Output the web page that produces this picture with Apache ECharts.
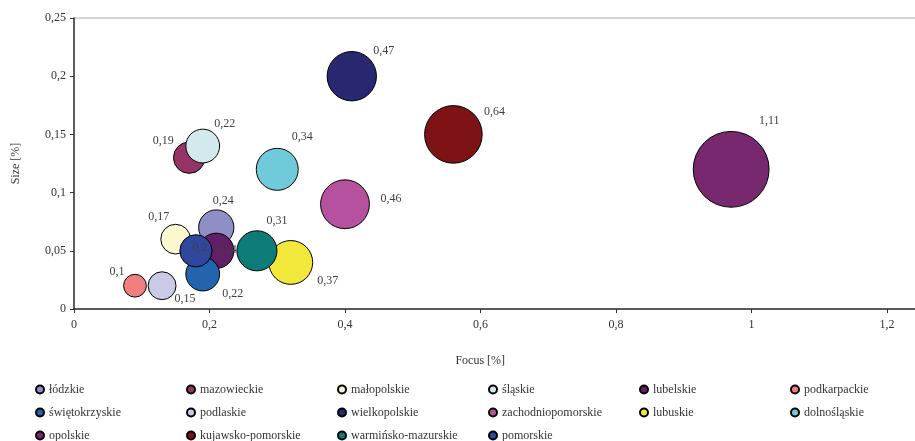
<!DOCTYPE html>
<html>
<head>
<meta charset="utf-8">
<script src="https://cdn.jsdelivr.net/npm/echarts@6/dist/echarts.min.js"></script>
<style>
html,body{margin:0;padding:0;background:#fff;}
#chart{width:915px;height:441px;}
</style>
</head>
<body>
<div id="chart"></div>
<script>
const regions = ['łódzkie','mazowieckie','małopolskie','śląskie','lubelskie','podkarpackie','świętokrzyskie','podlaskie','wielkopolskie','zachodniopomorskie','lubuskie','dolnośląskie','opolskie','kujawsko-pomorskie','warmińsko-mazurskie','pomorskie'];
const focus = [0.21, 0.17, 0.15, 0.19, 0.21, 0.09, 0.19, 0.13, 0.41, 0.40, 0.32, 0.30, 0.97, 0.56, 0.27, 0.18];
const sizeVals = [0.07, 0.13, 0.06, 0.14, 0.05, 0.02, 0.03, 0.02, 0.20, 0.09, 0.04, 0.12, 0.12, 0.15, 0.05, 0.05];
const bubble = [0.24, 0.19, 0.17, 0.22, 0.24, 0.1, 0.22, 0.15, 0.47, 0.46, 0.37, 0.34, 1.11, 0.64, 0.31, 0.2];
const xTicks = [0, 0.2, 0.4, 0.6, 0.8, 1, 1.2, 1.4];
const yTicks = [0, 0.05, 0.1, 0.15, 0.2, 0.25];

const colors = ['#8f8fc6','#953466','#fbf8cf','#d2eaee','#601f66','#f27f7f','#2264ae','#cacae6','#27286f','#b5519e','#f1e83b','#6fcbd9','#77286f','#7e1316','#0e7c76','#30479e'];
const labelOffsets = [[7,-27],[-26,-17],[-17,-22],[22,-22],[10,-1],[-18,-14],[30,20],[23,13],[32,-25],[46,-5],[37,18],[25,-32],[38,-48],[41,-23],[20,-30],[4,-3]];

const fmt = v => String(+v.toFixed(4)).replace('.', ',');
const FONT = 'Liberation Serif';

const series = regions.map((name, i) => ({
  name: name,
  type: 'scatter',
  data: [[focus[i], sizeVals[i], bubble[i]]],
  symbolSize: d => 72 * Math.sqrt(d[2]),
  itemStyle: { color: colors[i], borderColor: '#000', borderWidth: 1, opacity: 1 },
  label: {
    show: true,
    position: 'inside',
    formatter: p => fmt(p.data[2]),
    color: '#404040',
    fontFamily: FONT,
    fontSize: 12
  },
  labelLayout: { dx: labelOffsets[i][0], dy: labelOffsets[i][1], moveOverlap: false, hideOverlap: false },
  emphasis: { disabled: true },
  z: 2
}));

const chart = echarts.init(document.getElementById('chart'), null, { renderer: 'canvas' });
chart.setOption({
  animation: false,
  backgroundColor: '#fff',
  grid: { left: 74, top: 18, bottom: 132, right: -107.5, outerBoundsMode: 'none', show: true, borderColor: '#aaaaaa', borderWidth: 1, containLabel: false },
  xAxis: {
    type: 'value',
    min: xTicks[0], max: xTicks[xTicks.length - 1], interval: xTicks[1] - xTicks[0],
    name: 'Focus [%]', nameLocation: 'middle', nameGap: 46,
    nameTextStyle: { fontFamily: FONT, fontSize: 12, color: '#333', padding: [0, 136, 0, 0] },
    axisLine: { lineStyle: { color: '#333', width: 1.5 } },
    axisTick: { show: true, length: 4, lineStyle: { color: '#333' } },
    axisLabel: { formatter: fmt, fontFamily: FONT, fontSize: 12, color: '#333', margin: 10 },
    splitLine: { show: false }
  },
  yAxis: {
    type: 'value',
    min: yTicks[0], max: yTicks[yTicks.length - 1], interval: yTicks[1] - yTicks[0],
    name: 'Size [%]', nameLocation: 'middle', nameGap: 52, nameRotate: 90,
    nameTextStyle: { fontFamily: FONT, fontSize: 12, color: '#333' },
    axisLine: { show: true, lineStyle: { color: '#333', width: 1.5 } },
    axisTick: { show: true, length: 4, lineStyle: { color: '#333' } },
    axisLabel: { formatter: fmt, fontFamily: FONT, fontSize: 12, color: '#333', margin: 8 },
    splitLine: { show: false }
  },
  legend: {
    data: regions,
    left: 30, top: 378, width: 915,
    orient: 'horizontal',
    icon: 'circle',
    itemWidth: 8, itemHeight: 8,
    itemGap: 10,
    textStyle: { fontFamily: FONT, fontSize: 12, color: '#333', width: 127, lineHeight: 13, overflow: 'none' },
    selectedMode: false
  },
  series: series
});
</script>
</body>
</html>
